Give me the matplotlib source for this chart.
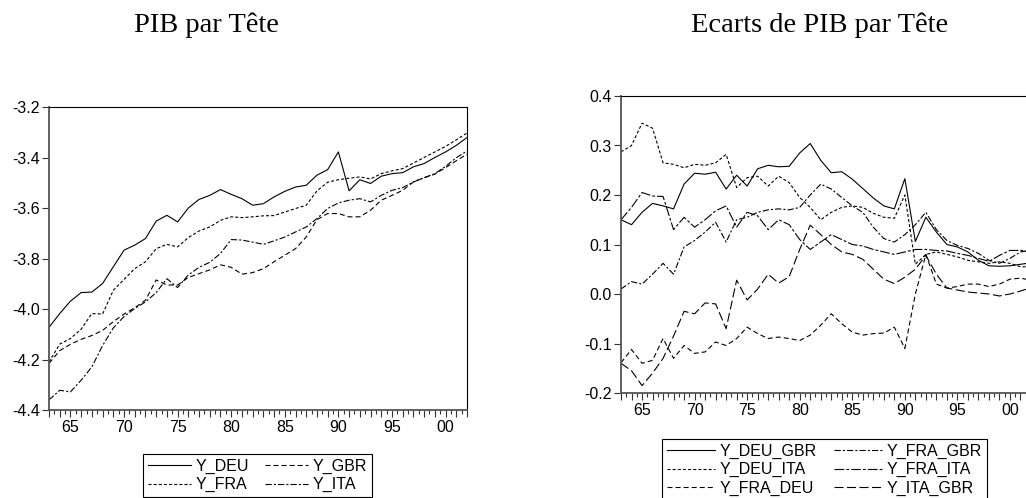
import matplotlib
matplotlib.use("Agg")
import matplotlib.pyplot as plt
from matplotlib.ticker import FixedLocator, MultipleLocator, FormatStrFormatter

plt.rcParams['font.family'] = ['Liberation Sans', 'DejaVu Sans']
plt.rcParams['lines.scale_dashes'] = False
plt.rcParams['axes.unicode_minus'] = False

YEARS = list(range(1963, 2003))
XTICK_YEARS = [1965, 1970, 1975, 1980, 1985, 1990, 1995, 2000]
XTICK_LABELS = ['65', '70', '75', '80', '85', '90', '95', '00']

# PIB par tete (log)
Y_DEU = [-4.073, -4.018, -3.969, -3.935, -3.933, -3.899, -3.833, -3.767, -3.747, -3.721,
         -3.652, -3.629, -3.655, -3.600, -3.566, -3.550, -3.527, -3.546, -3.563, -3.589,
         -3.583, -3.556, -3.534, -3.517, -3.510, -3.470, -3.448, -3.378, -3.532, -3.488,
         -3.503, -3.474, -3.464, -3.460, -3.437, -3.424, -3.400, -3.378, -3.352, -3.321]
Y_FRA = [-4.210, -4.139, -4.117, -4.080, -4.018, -4.020, -3.926, -3.883, -3.840, -3.813,
         -3.761, -3.744, -3.754, -3.717, -3.691, -3.675, -3.649, -3.635, -3.638, -3.635,
         -3.631, -3.630, -3.616, -3.602, -3.589, -3.532, -3.498, -3.488, -3.482, -3.477,
         -3.485, -3.464, -3.453, -3.444, -3.422, -3.400, -3.378, -3.356, -3.330, -3.303]
Y_GBR = [-4.215, -4.165, -4.140, -4.120, -4.105, -4.085, -4.050, -4.020, -3.995, -3.965,
         -3.885, -3.905, -3.905, -3.875, -3.860, -3.845, -3.825, -3.835, -3.862, -3.856,
         -3.840, -3.813, -3.787, -3.761, -3.715, -3.646, -3.622, -3.622, -3.635, -3.635,
         -3.609, -3.569, -3.550, -3.530, -3.497, -3.480, -3.466, -3.440, -3.413, -3.387]
Y_ITA = [-4.360, -4.322, -4.328, -4.282, -4.229, -4.145, -4.075, -4.030, -3.998, -3.972,
         -3.935, -3.880, -3.915, -3.865, -3.835, -3.815, -3.780, -3.725, -3.727, -3.735,
         -3.744, -3.730, -3.715, -3.695, -3.675, -3.642, -3.602, -3.580, -3.569, -3.563,
         -3.576, -3.550, -3.530, -3.519, -3.497, -3.480, -3.464, -3.435, -3.401, -3.374]

# ecarts
Y_DEU_GBR = [0.150, 0.140, 0.165, 0.183, 0.178, 0.172, 0.222, 0.244, 0.242, 0.246,
             0.212, 0.240, 0.218, 0.253, 0.260, 0.257, 0.258, 0.285, 0.304, 0.270,
             0.245, 0.247, 0.232, 0.213, 0.194, 0.178, 0.172, 0.233, 0.106, 0.155,
             0.125, 0.100, 0.095, 0.085, 0.068, 0.057, 0.056, 0.057, 0.060, 0.063]
Y_DEU_ITA = [0.287, 0.300, 0.345, 0.335, 0.265, 0.262, 0.255, 0.262, 0.260, 0.265,
             0.282, 0.215, 0.235, 0.238, 0.218, 0.238, 0.225, 0.195, 0.175, 0.150,
             0.165, 0.175, 0.178, 0.175, 0.163, 0.155, 0.153, 0.200, 0.060, 0.080,
             0.085, 0.080, 0.075, 0.068, 0.065, 0.062, 0.065, 0.062, 0.055, 0.055]
Y_FRA_DEU = [-0.139, -0.112, -0.140, -0.134, -0.090, -0.130, -0.104, -0.120, -0.117, -0.097,
             -0.104, -0.090, -0.067, -0.080, -0.090, -0.087, -0.090, -0.094, -0.083, -0.063,
             -0.040, -0.060, -0.077, -0.083, -0.080, -0.079, -0.067, -0.110, 0.000, 0.080,
             0.020, 0.012, 0.015, 0.020, 0.020, 0.015, 0.020, 0.030, 0.032, 0.028]
Y_FRA_GBR = [0.010, 0.025, 0.020, 0.040, 0.062, 0.040, 0.095, 0.108, 0.125, 0.145,
             0.105, 0.150, 0.155, 0.165, 0.170, 0.172, 0.170, 0.175, 0.200, 0.222,
             0.212, 0.195, 0.178, 0.165, 0.135, 0.112, 0.105, 0.120, 0.140, 0.165,
             0.130, 0.108, 0.098, 0.092, 0.082, 0.068, 0.062, 0.072, 0.085, 0.088]
Y_FRA_ITA = [0.150, 0.175, 0.205, 0.198, 0.197, 0.130, 0.155, 0.135, 0.150, 0.168,
             0.178, 0.135, 0.165, 0.158, 0.130, 0.150, 0.140, 0.110, 0.090, 0.105,
             0.120, 0.110, 0.100, 0.097, 0.090, 0.085, 0.080, 0.085, 0.090, 0.090,
             0.088, 0.087, 0.082, 0.078, 0.072, 0.066, 0.078, 0.088, 0.088, 0.087]
Y_ITA_GBR = [-0.140, -0.155, -0.185, -0.160, -0.130, -0.085, -0.035, -0.040, -0.018, -0.020,
             -0.070, 0.028, -0.012, 0.010, 0.040, 0.022, 0.035, 0.090, 0.139, 0.120,
             0.100, 0.085, 0.080, 0.070, 0.050, 0.030, 0.021, 0.034, 0.050, 0.078,
             0.040, 0.012, 0.008, 0.004, 0.002, 0.000, -0.004, 0.000, 0.006, 0.013]

SOLID = '-'
SHORT = (0, (2.2, 1.5))
MEDIUM = (0, (3.6, 2.2))
DASHDOT = (0, (4.5, 1.5, 1.5, 1.5))
LONGDOT = (0, (7.0, 1.5, 2.0, 1.5))
LONG = (0, (6.5, 2.5))

left_series = [('Y_DEU', Y_DEU, SOLID), ('Y_FRA', Y_FRA, SHORT),
               ('Y_GBR', Y_GBR, MEDIUM), ('Y_ITA', Y_ITA, DASHDOT)]
right_series = [('Y_DEU_GBR', Y_DEU_GBR, SOLID), ('Y_DEU_ITA', Y_DEU_ITA, SHORT),
                ('Y_FRA_DEU', Y_FRA_DEU, MEDIUM), ('Y_FRA_GBR', Y_FRA_GBR, DASHDOT),
                ('Y_FRA_ITA', Y_FRA_ITA, LONGDOT), ('Y_ITA_GBR', Y_ITA_GBR, LONG)]

W, H = 1026, 498
fig = plt.figure(figsize=(W / 100, H / 100), dpi=100)
ax1 = fig.add_axes([49 / W, 88 / H, 418 / W, 303 / H])
ax2 = fig.add_axes([621 / W, 105 / H, 410 / W, 297 / H])


def style_axes(ax, ylim, ystep):
    ax.set_xlim(YEARS[0], YEARS[-1])
    ax.set_ylim(*ylim)
    labels = [XTICK_LABELS[XTICK_YEARS.index(y)] if y in XTICK_YEARS else '' for y in YEARS]
    ax.xaxis.set_major_locator(FixedLocator(YEARS))
    ax.set_xticklabels(labels)
    ax.xaxis.set_minor_locator(MultipleLocator(0.5))
    ax.yaxis.set_major_locator(MultipleLocator(ystep))
    ax.yaxis.set_major_formatter(FormatStrFormatter('%.1f'))
    ax.tick_params(axis='x', which='major', direction='out', length=5, width=0.8,
                   pad=2, labelsize=11.5, color='#333')
    ax.tick_params(axis='x', which='minor', direction='out', length=3, width=0.8, color='#333')
    ax.tick_params(axis='y', direction='out', length=5, width=0.8, pad=1.5,
                   labelsize=11.5, color='#333')
    for side in ['left', 'bottom']:
        ax.spines[side].set_color('#555')
        ax.spines[side].set_linewidth(1.3)
    for side in ['top', 'right']:
        ax.spines[side].set_color('black')
        ax.spines[side].set_linewidth(0.8)


def draw(ax, series):
    handles = []
    for name, vals, ls in series:
        h, = ax.plot(YEARS, vals, color='black', lw=0.8, linestyle=ls, label=name)
        handles.append(h)
    return handles


h1 = draw(ax1, left_series)
h2 = draw(ax2, right_series)
style_axes(ax1, (-4.4, -3.2), 0.2)
style_axes(ax2, (-0.2, 0.4), 0.1)

fig.text(206 / W, 1 - 32 / H, 'PIB par Tête', ha='center', va='baseline',
         fontsize=20.5, family='Liberation Serif')
fig.text(820 / W, 1 - 32 / H, 'Ecarts de PIB par Tête', ha='center', va='baseline',
         fontsize=20.5, family='Liberation Serif')

leg_kw = dict(loc='upper left', mode='expand', ncol=2, fontsize=11.5, frameon=True,
              fancybox=False, edgecolor='black', framealpha=1, borderpad=0.3,
              labelspacing=0.2, handletextpad=0.3, borderaxespad=0)
leg1 = fig.legend(handles=h1, bbox_to_anchor=(143 / W, 0, 229 / W, 1 - 454 / H),
                  handlelength=2.7, **leg_kw)
leg2 = fig.legend(handles=h2, bbox_to_anchor=(662 / W, 0, 325 / W, 1 - 439 / H),
                  handlelength=3.0, **leg_kw)
for leg in (leg1, leg2):
    leg.get_frame().set_linewidth(0.8)

fig.savefig('out.png', dpi=100)
